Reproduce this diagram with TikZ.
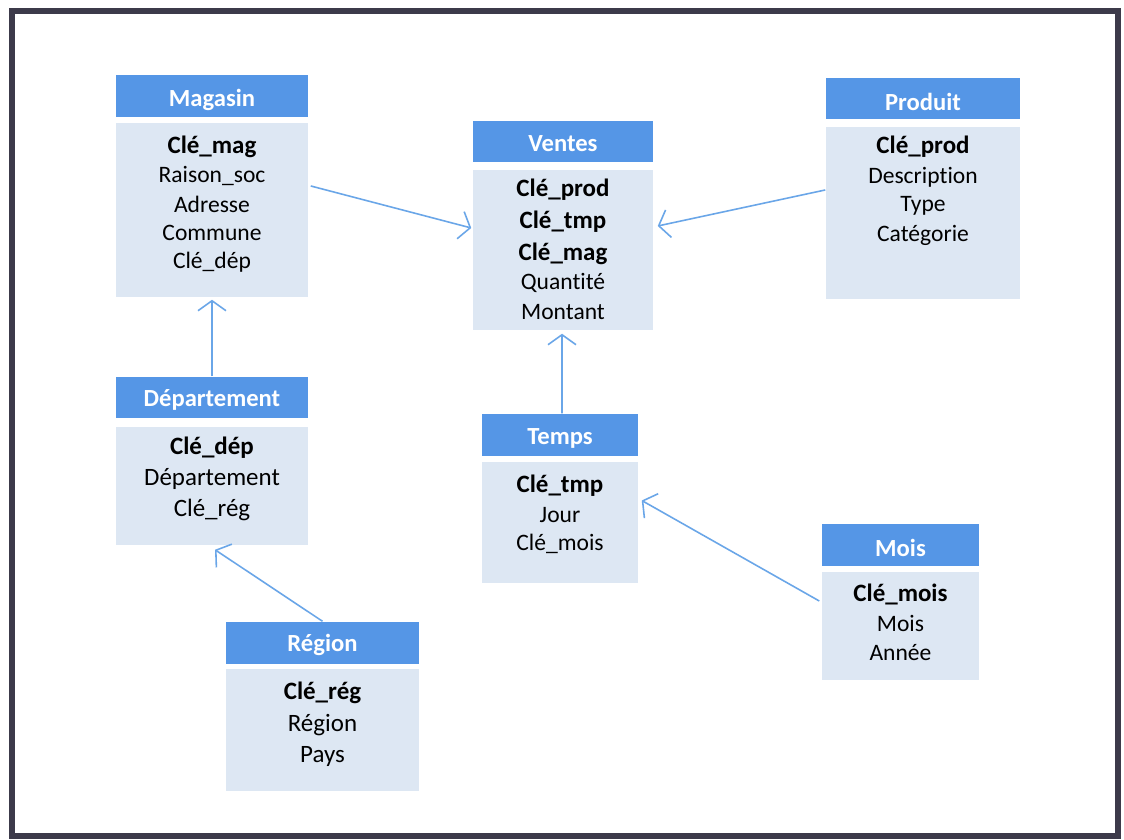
\documentclass[tikz,border=0pt]{standalone}
\usepackage{fontspec}
\setmainfont{Carlito}[Ligatures=NoCommon]
\usetikzlibrary{arrows.meta}
\definecolor{hdrblue}{HTML}{5596E6}
\definecolor{bodyblue}{HTML}{DDE7F3}
\definecolor{linkblue}{HTML}{6AA6E8}
\definecolor{framegray}{HTML}{3C3A4A}
\tikzset{
  hdr/.style={fill=hdrblue, draw=none, inner sep=0pt, text=white,
    font=\fontsize{7}{8}\selectfont\bfseries},
  hdrtxt/.style={hdr, fill=none, yshift=-0.02cm},
  tblbody/.style={fill=bodyblue, draw=none, inner sep=0pt},
  keyfld/.style={inner sep=0pt, yshift=-0.02cm, font=\fontsize{7.1}{8}\selectfont\bfseries},
  fld/.style={inner sep=0pt, yshift=-0.02cm, font=\fontsize{6.7}{8}\selectfont},
  link/.style={draw=linkblue, line width=0.45pt,
    -{Straight Barb[length=1mm, width=2.8mm]}},
}
\begin{document}
\begin{tikzpicture}[x=0.01cm, y=-0.01cm]
  \useasboundingbox (0,0) rectangle (1124,840);
  \fill[white] (0,0) rectangle (1124,840);
  \draw[framegray, line width=1.8pt] (12,11) rectangle (1118,836);

  % Magasin
  \node[hdr, minimum width=1.92cm, minimum height=0.42cm] (magh) at (212,96) {};
  \node[tblbody, minimum width=1.92cm, minimum height=1.74cm] (magb) at (212,210) {};
  \node[hdrtxt] (magt) at (212,98) {Magasin};
  \node[keyfld] (mag1) at (212,145) {Clé\_mag};
  \node[fld] (mag2) at (212,174) {Raison\_soc};
  \node[fld] (mag3) at (212,202) {Adresse};
  \node[fld] (mag4) at (212,231) {Commune};
  \node[fld] (mag5) at (212,260) {Clé\_dép};

  % Ventes
  \node[hdr, minimum width=1.80cm, minimum height=0.41cm] (venh) at (563,141.5) {};
  \node[tblbody, minimum width=1.80cm, minimum height=1.60cm] (venb) at (563,250) {};
  \node[hdrtxt] (vent) at (563,142) {Ventes};
  \node[keyfld] (ven1) at (563,188) {Clé\_prod};
  \node[keyfld] (ven2) at (563,220) {Clé\_tmp};
  \node[keyfld] (ven3) at (563,252) {Clé\_mag};
  \node[fld] (ven4) at (563,281) {Quantité};
  \node[fld] (ven5) at (563,310) {Montant};

  % Produit
  \node[hdr, minimum width=1.94cm, minimum height=0.41cm] (proh) at (923,98.5) {};
  \node[tblbody, minimum width=1.94cm, minimum height=1.72cm] (prob) at (923,213) {};
  \node[hdrtxt] (prot) at (923,100) {Produit};
  \node[keyfld] (pro1) at (923,145) {Clé\_prod};
  \node[fld] (pro2) at (923,175) {Description};
  \node[fld] (pro3) at (923,204) {Type};
  \node[fld] (pro4) at (923,233) {Catégorie};

  % Departement
  \node[hdr, minimum width=1.92cm, minimum height=0.41cm] (deph) at (212,397.5) {};
  \node[tblbody, minimum width=1.92cm, minimum height=1.18cm] (depb) at (212,486) {};
  \node[hdrtxt] (dept) at (212,398) {Département};
  \node[keyfld] (dep1) at (212,446) {Clé\_dép};
  \node[fld, font=\fontsize{7.1}{8}\selectfont] (dep2) at (212,477) {Département};
  \node[fld, font=\fontsize{7.1}{8}\selectfont] (dep3) at (212,508) {Clé\_rég};

  % Region
  \node[hdr, minimum width=1.93cm, minimum height=0.42cm] (regh) at (322.5,643) {};
  \node[tblbody, minimum width=1.93cm, minimum height=1.22cm] (regb) at (322.5,730) {};
  \node[hdrtxt] (regt) at (322.5,643) {Région};
  \node[keyfld] (reg1) at (322.5,691) {Clé\_rég};
  \node[fld, font=\fontsize{7.1}{8}\selectfont] (reg2) at (322.5,723) {Région};
  \node[fld, font=\fontsize{7.1}{8}\selectfont] (reg3) at (322.5,754) {Pays};

  % Temps
  \node[hdr, minimum width=1.56cm, minimum height=0.42cm] (temh) at (560,435) {};
  \node[tblbody, minimum width=1.56cm, minimum height=1.21cm] (temb) at (560,522.5) {};
  \node[hdrtxt] (temt) at (560,436) {Temps};
  \node[keyfld] (tem1) at (560,484) {Clé\_tmp};
  \node[fld] (tem2) at (560,513) {Jour};
  \node[fld] (tem3) at (560,542) {Clé\_mois};

  % Mois
  \node[hdr, minimum width=1.57cm, minimum height=0.42cm] (moih) at (900.5,545) {};
  \node[tblbody, minimum width=1.57cm, minimum height=1.08cm] (moib) at (900.5,626) {};
  \node[hdrtxt] (moit) at (900.5,546) {Mois};
  \node[keyfld] (moi1) at (900.5,592) {Clé\_mois};
  \node[fld] (moi2) at (900.5,621) {Mois};
  \node[fld] (moi3) at (900.5,651) {Année};

  % foreign-key links
  \draw[link] ([xshift=0.02cm, yshift=0.24cm]magb.east) -- ([xshift=-0.01cm, yshift=0.22cm]venb.west);
  \draw[link] ([yshift=0.23cm]prob.west) -- ([xshift=0.04cm, yshift=0.24cm]venb.east);
  \draw[link] (deph.north) -- ([yshift=-0.02cm]magb.south);
  \draw[link] (regh.north) -- ([xshift=0.03cm, yshift=-0.04cm]depb.south);
  \draw[link] ([xshift=0.02cm]temh.north) -- ([xshift=-0.01cm, yshift=-0.03cm]venb.south);
  \draw[link] ([xshift=-0.02cm, yshift=0.25cm]moib.west) -- ([xshift=0.03cm, yshift=0.22cm]temb.east);
\end{tikzpicture}
\end{document}
